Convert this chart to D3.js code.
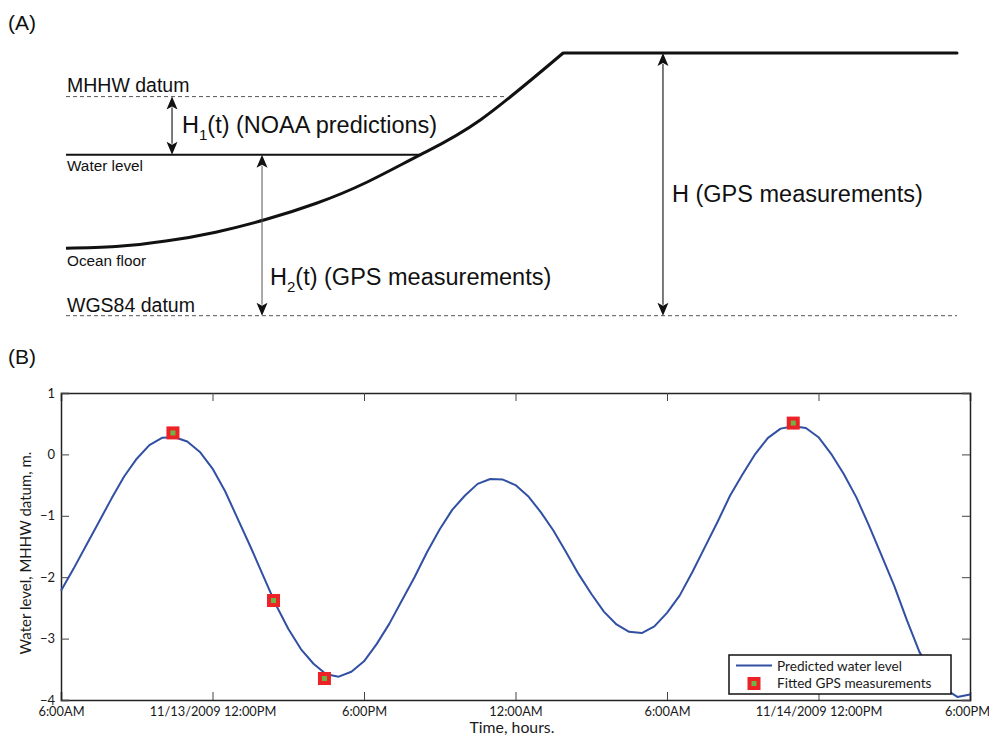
<!DOCTYPE html>
<head>
    <meta charset="utf-8">
    <title>Water level figure</title>
    <script src="https://d3js.org/d3.v7.min.js"></script>
</head>
<style>
body {
  margin: 0;
  background: #fff;
}
.schem text {
  font-family: 'Liberation Sans', Arial, Helvetica, sans-serif;
  fill: #111;
}
.plot text {
  font-family: Lato, 'Open Sans', sans-serif;
  fill: #1a1a1a;
}
</style>
<body>
    <svg width="989" height="738"></svg>
</body>

<script>
    // ---- Panel A: schematic levels (arbitrary units, WGS84 = 0) ----
    var levelTop = 10;
    var levelMHHW = 8.34;
    var levelWater = 6.13;
    var levelWGS84 = 0;
    var mhhwEnd = 49.5;      // where the dashed MHHW line meets the slope
    var waterEnd = 39.8;     // where the water line meets the slope
    var floorX = [0, 5.6, 11.2, 16.8, 22.4, 28.1, 33.7, 39.8, 46.5, 55.8];
    var floorY = [2.57, 2.63, 2.84, 3.18, 3.66, 4.28, 5.07, 6.13, 7.45, 10];
    var plateauX = [55.8, 100];
    var arrowH1X = 11.9;
    var arrowH2X = 22.0;
    var arrowHX = 67.0;

    // ---- Panel B: predicted water level, every 30 min from 6:00AM 11/13/2009 ----
    var startTime = new Date(2009, 10, 13, 6, 0);
    var endTime = new Date(2009, 10, 14, 18, 0);
    var predicted = [
        -2.22, -1.86, -1.48, -1.10, -0.72, -0.36, -0.07, 0.15, 0.27, 0.28, 0.21, 0.04,
        -0.23, -0.60, -1.05, -1.50, -1.97, -2.44, -2.84, -3.17, -3.41, -3.58, -3.62, -3.54,
        -3.37, -3.09, -2.76, -2.38, -2.00, -1.59, -1.22, -0.90, -0.67, -0.48, -0.40, -0.41,
        -0.50, -0.68, -0.94, -1.24, -1.59, -1.95, -2.27, -2.56, -2.77, -2.89, -2.91, -2.80,
        -2.58, -2.30, -1.92, -1.51, -1.10, -0.67, -0.32, 0.01, 0.27, 0.42, 0.46, 0.43,
        0.28, 0.01, -0.32, -0.70, -1.16, -1.65, -2.14, -2.70, -3.22, -3.55, -3.82, -3.95,
        -3.91
    ];
    var gpsTimes = [
        new Date(2009, 10, 13, 10, 26),
        new Date(2009, 10, 13, 14, 25),
        new Date(2009, 10, 13, 16, 26),
        new Date(2009, 10, 14, 11, 0)
    ];
    var gpsValues = [0.35, -2.38, -3.65, 0.51];
    var xTickLabels = ['6:00AM', '11/13/2009 12:00PM', '6:00PM', '12:00AM', '6:00AM', '11/14/2009 12:00PM', '6:00PM'];
    var yTicks = [-4, -3, -2, -1, 0, 1];

    var svg = d3.select('svg');

    // ================= Panel A =================
    var ax = d3.scaleLinear().domain([0, 100]).range([66, 957]);
    var ay = d3.scaleLinear().domain([0, 10]).range([315.7, 53]);
    var ga = svg.append('g').attr('class', 'schem');

    ga.append('text').attr('x', 8).attr('y', 30).style('font-size', '21px').text('(A)');

    // datum lines (dashed)
    [[levelMHHW, mhhwEnd], [levelWGS84, 100]].forEach(function (d) {
        ga.append('line')
            .attr('x1', ax(0)).attr('x2', ax(d[1]))
            .attr('y1', ay(d[0])).attr('y2', ay(d[0]))
            .attr('stroke', '#555').attr('stroke-width', 1)
            .attr('stroke-dasharray', '4,3');
    });

    // water level line
    ga.append('line')
        .attr('x1', ax(0)).attr('x2', ax(waterEnd))
        .attr('y1', ay(levelWater)).attr('y2', ay(levelWater))
        .attr('stroke', '#111').attr('stroke-width', 2);

    // ocean floor profile
    var floorPts = floorX.map(function (x, i) { return [x, floorY[i]]; });
    var profileLine = d3.line()
        .x(function (d) { return ax(d[0]); })
        .y(function (d) { return ay(d[1]); });
    ga.append('path')
        .attr('d', profileLine.curve(d3.curveNatural)(floorPts))
        .attr('fill', 'none').attr('stroke', '#111').attr('stroke-width', 3);
    ga.append('path')
        .attr('d', profileLine.curve(d3.curveLinear)(plateauX.map(function (x) { return [x, levelTop]; })))
        .attr('fill', 'none').attr('stroke', '#111').attr('stroke-width', 3)
        .attr('stroke-linecap', 'round');

    /**
     * Vertical double-headed arrow between two levels
     */
    function drawArrow(xv, yTop, yBot, stroke, width) {
        var px = ax(xv), p1 = ay(yTop), p2 = ay(yBot);
        var hl = 13, hw = 5.5;
        ga.append('line')
            .attr('x1', px).attr('x2', px)
            .attr('y1', p1 + hl - 2).attr('y2', p2 - hl + 2)
            .attr('stroke', stroke).attr('stroke-width', width);
        ga.append('path')
            .attr('d', 'M' + px + ',' + p1 + 'L' + (px - hw) + ',' + (p1 + hl) +
                'L' + px + ',' + (p1 + hl - 3) + 'L' + (px + hw) + ',' + (p1 + hl) + 'Z')
            .attr('fill', '#111');
        ga.append('path')
            .attr('d', 'M' + px + ',' + p2 + 'L' + (px - hw) + ',' + (p2 - hl) +
                'L' + px + ',' + (p2 - hl + 3) + 'L' + (px + hw) + ',' + (p2 - hl) + 'Z')
            .attr('fill', '#111');
    }
    drawArrow(arrowH1X, levelMHHW, levelWater, '#333', 1.3);
    drawArrow(arrowH2X, levelWater, levelWGS84, '#555', 1);
    drawArrow(arrowHX, levelTop, levelWGS84, '#222', 1.2);

    // level labels
    ga.append('text').attr('x', 67).attr('y', 91.5).style('font-size', '19.5px').text('MHHW datum');
    ga.append('text').attr('x', 67).attr('y', 171).style('font-size', '15.3px').text('Water level');
    ga.append('text').attr('x', 67).attr('y', 266).style('font-size', '15.3px').text('Ocean floor');
    ga.append('text').attr('x', 67).attr('y', 312).style('font-size', '19.5px').text('WGS84 datum');

    function subLabel(x, y, sub, rest) {
        var t = ga.append('text').attr('x', x).attr('y', y).style('font-size', '23.5px');
        t.append('tspan').text('H');
        t.append('tspan').attr('dy', 7).style('font-size', '15px').text(sub);
        t.append('tspan').attr('dy', -7).text(rest);
    }
    subLabel(182, 133, '1', '(t) (NOAA predictions)');
    subLabel(270, 285, '2', '(t) (GPS measurements)');
    ga.append('text').attr('x', 672).attr('y', 202).style('font-size', '23.5px').text('H (GPS measurements)');

    // ================= Panel B =================
    var gb = svg.append('g').attr('class', 'plot');
    svg.append('text').attr('x', 8).attr('y', 364)
        .style('font-family', "'Liberation Sans', Arial, sans-serif")
        .style('font-size', '21px').style('fill', '#111').text('(B)');

    var x = d3.scaleTime().domain([startTime, endTime]).range([61, 970]);
    var y = d3.scaleLinear().domain([-4, 1]).range([700, 393]);
    var xTicks = d3.timeHour.every(6).range(startTime, new Date(+endTime + 1));

    var frameColor = '#222';

    gb.append('g').attr('transform', 'translate(0,700)')
        .call(d3.axisBottom(x).tickValues(xTicks).tickSize(-8).tickPadding(7)
            .tickFormat(function (d, i) { return xTickLabels[i]; }))
        .call(function (g) {
            g.selectAll('text').style('font-size', '12.8px');
            g.selectAll('.tick:last-of-type text').attr('dx', -3);
        });
    gb.append('g').attr('transform', 'translate(0,393)')
        .call(d3.axisTop(x).tickValues(xTicks).tickSize(-8).tickFormat(''));
    gb.append('g').attr('transform', 'translate(61,0)')
        .call(d3.axisLeft(y).tickValues(yTicks).tickSize(-8).tickPadding(6)
            .tickFormat(function (d) { return d < 0 ? '\u2212' + Math.abs(d) : d; }))
        .call(function (g) {
            g.selectAll('text').style('font-size', '13px');
        });
    gb.append('g').attr('transform', 'translate(970,0)')
        .call(d3.axisRight(y).tickValues(yTicks).tickSize(-8).tickFormat(''));

    gb.selectAll('.domain').attr('stroke', frameColor).attr('stroke-width', 1.5);
    gb.selectAll('.tick line').attr('stroke', '#444').attr('stroke-width', 1);
    gb.selectAll('.tick text').attr('fill', null);
    gb.selectAll('g').attr('font-family', null);

    // predicted curve
    var series = predicted.map(function (v, i) {
        return { t: d3.timeMinute.offset(startTime, i * 30), v: v };
    });
    gb.append('path')
        .datum(series)
        .attr('d', d3.line().x(function (d) { return x(d.t); }).y(function (d) { return y(d.v); }))
        .attr('fill', 'none').attr('stroke', '#3150a4').attr('stroke-width', 2)
        .attr('stroke-linejoin', 'round');

    // GPS markers
    var gps = gpsTimes.map(function (t, i) { return { t: t, v: gpsValues[i] }; });
    function marker(sel) {
        sel.append('rect').attr('x', -6.5).attr('y', -6.5).attr('width', 13).attr('height', 13)
            .attr('fill', '#ec2227');
        sel.append('rect').attr('x', -2.5).attr('y', -2.5).attr('width', 5).attr('height', 5)
            .attr('fill', '#6cb544');
    }
    gb.selectAll('.gps').data(gps).enter().append('g').attr('class', 'gps')
        .attr('transform', function (d) { return 'translate(' + x(d.t) + ',' + y(d.v) + ')'; })
        .call(marker);

    // legend
    var lg = gb.append('g').attr('transform', 'translate(729,655)');
    lg.append('rect').attr('width', 222).attr('height', 39)
        .attr('fill', '#fff').attr('stroke', '#111').attr('stroke-width', 1.5);
    lg.append('line').attr('x1', 7).attr('x2', 43).attr('y1', 10.5).attr('y2', 10.5)
        .attr('stroke', '#3150a4').attr('stroke-width', 2);
    lg.append('text').attr('x', 48).attr('y', 16).style('font-size', '13.6px').text('Predicted water level');
    lg.append('g').attr('transform', 'translate(25,28.5)').call(marker);
    lg.append('text').attr('x', 48).attr('y', 33).style('font-size', '13.6px').text('Fitted GPS measurements');

    // axis titles
    gb.append('text').attr('x', 512).attr('y', 733).attr('text-anchor', 'middle')
        .style('font-size', '15.8px').text('Time, hours.');
    gb.append('text').attr('transform', 'translate(31,553)rotate(-90)').attr('text-anchor', 'middle')
        .style('font-size', '15px').text('Water level, MHHW datum, m.');
</script>
